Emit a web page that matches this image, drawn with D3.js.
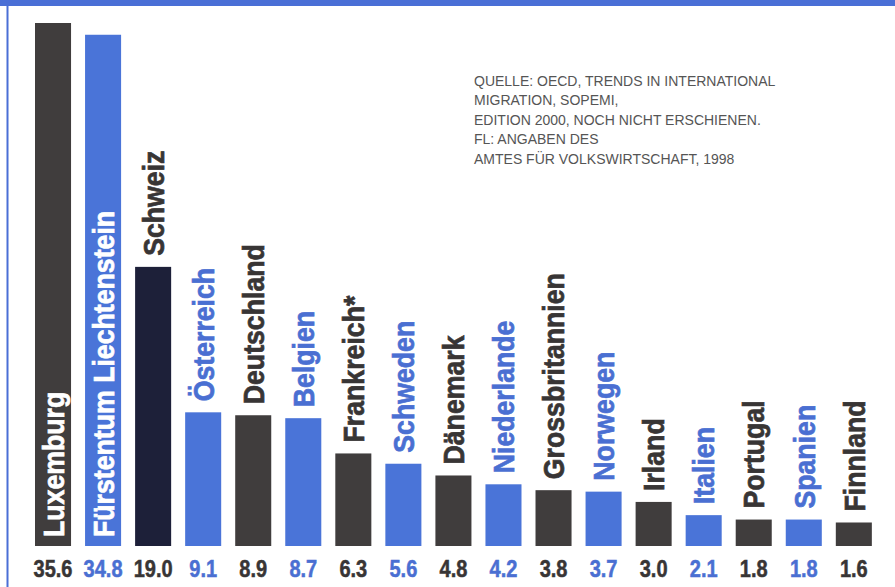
<!DOCTYPE html>
<html>
<head>
<meta charset="utf-8">
<script src="https://cdn.jsdelivr.net/npm/d3@7"></script>
<style>
  body { margin: 0; background: #fff; }
  svg { display: block; }
</style>
</head>
<body>
<script>
// Ausländeranteil in Prozent der Wohnbevölkerung
var countries = ["Luxemburg", "Fürstentum Liechtenstein", "Schweiz", "Österreich", "Deutschland",
  "Belgien", "Frankreich*", "Schweden", "Dänemark", "Niederlande", "Grossbritannien",
  "Norwegen", "Irland", "Italien", "Portugal", "Spanien", "Finnland"];
var values = [35.6, 34.8, 19.0, 9.1, 8.9, 8.7, 6.3, 5.6, 4.8, 4.2, 3.8, 3.7, 3.0, 2.1, 1.8, 1.8, 1.6];
var colorKind = ["dark", "blue", "navy", "blue", "dark", "blue", "dark", "blue", "dark",
  "blue", "dark", "blue", "dark", "blue", "dark", "blue", "dark"];
var labelInside = ["Luxemburg", "Fürstentum Liechtenstein"];
var sourceLines = ["QUELLE: OECD, TRENDS IN INTERNATIONAL", "MIGRATION, SOPEMI,",
  "EDITION 2000, NOCH NICHT ERSCHIENEN.", "FL: ANGABEN DES", "AMTES FÜR VOLKSWIRTSCHAFT, 1998"];

var width = 895, height = 587;
var barFill = {dark: "#403d3d", blue: "#4a74d8", navy: "#1d2039"};
var textFill = {dark: "#383535", blue: "#4a6fd2", navy: "#383535"};
var frameBlue = "#4a6fd6";

var svg = d3.select("body")
	.append("svg")
	.attr("width", width)
	.attr("height", height);

// header band and left rule
svg.append("rect")
	.attr("x", 0).attr("y", 0)
	.attr("width", width).attr("height", 6)
	.style("fill", frameBlue);
svg.append("line")
	.attr("x1", 7.5).attr("x2", 7.5)
	.attr("y1", 0).attr("y2", height)
	.style("stroke", frameBlue)
	.style("stroke-width", 2);

var x = d3.scaleBand()
	.domain(countries)
	.range([28, 878.85])
	.paddingInner(0.28)
	.paddingOuter(0.14);

var y = d3.scaleLinear()
	.domain([0, 35.6])
	.range([546, 23]);

var data = countries.map(function(c, i) {
	return {name: c, value: values[i], kind: colorKind[i]};
});

svg.selectAll("rect.bar")
	.data(data)
	.enter()
	.append("rect")
	.attr("class", "bar")
	.attr("x", function(d) { return x(d.name); })
	.attr("y", function(d) { return y(d.value); })
	.attr("width", x.bandwidth())
	.attr("height", function(d) { return y(0) - y(d.value); })
	.style("fill", function(d) { return barFill[d.kind]; });

// country names, rotated
var capH = 21.5;
function nameColor(d) {
	return labelInside.indexOf(d.name) >= 0 ? "#ffffff" : textFill[d.kind];
}
svg.selectAll("text.name")
	.data(data)
	.enter()
	.append("text")
	.attr("class", "name")
	.attr("transform", function(d) {
		var cx = x(d.name) + x.bandwidth() / 2 + capH / 2;
		var inside = labelInside.indexOf(d.name) >= 0;
		var ys = inside ? y(0) - 9 : y(d.value) - 11;
		return "translate(" + cx + "," + ys + ") rotate(-90) scale(0.89,1)";
	})
	.style("font-family", "'Liberation Sans', Arial, Helvetica, sans-serif")
	.style("font-weight", "bold")
	.style("font-size", "30px")
	.style("fill", nameColor)
	.style("stroke", nameColor)
	.style("stroke-width", 0.7)
	.text(function(d) { return d.name; });

// values under the bars
svg.selectAll("text.value")
	.data(data)
	.enter()
	.append("text")
	.attr("class", "value")
	.attr("transform", function(d) {
		return "translate(" + (x(d.name) + x.bandwidth() / 2) + ",577) scale(0.87,1)";
	})
	.attr("text-anchor", "middle")
	.style("font-family", "'Liberation Sans', Arial, Helvetica, sans-serif")
	.style("font-weight", "bold")
	.style("font-size", "23px")
	.style("fill", function(d) { return textFill[d.kind]; })
	.style("stroke", function(d) { return textFill[d.kind]; })
	.style("stroke-width", 0.5)
	.text(function(d) { return d3.format(".1f")(d.value); });

// source note
var note = svg.append("text")
	.attr("x", 474)
	.attr("y", 86)
	.style("font-family", "'Liberation Sans', Arial, Helvetica, sans-serif")
	.style("font-size", "14px")
	.style("fill", "#555");
note.selectAll("tspan")
	.data(sourceLines)
	.enter()
	.append("tspan")
	.attr("x", 474)
	.attr("dy", function(d, i) { return i == 0 ? 0 : 19.4; })
	.text(function(d) { return d; });
</script>
</body>
</html>
